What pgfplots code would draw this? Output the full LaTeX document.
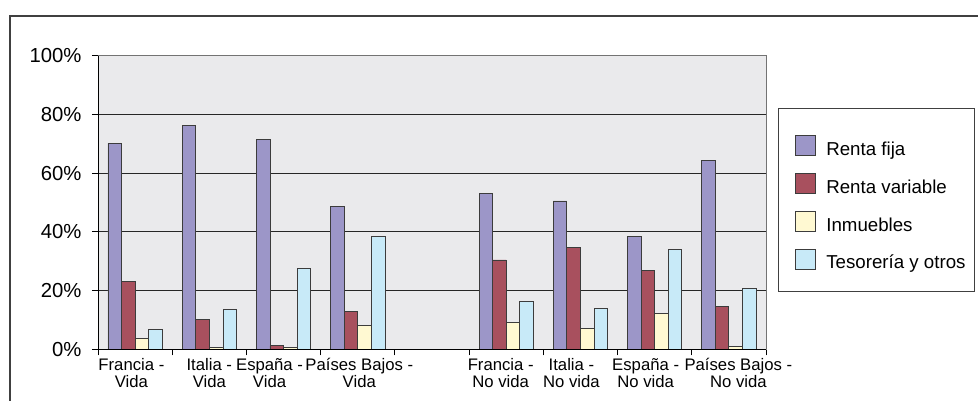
\documentclass[border=0pt]{standalone}
\usepackage{fontspec}
\setmainfont{Liberation Sans}
\usepackage{pgfplots}
\pgfplotsset{compat=1.18}

\definecolor{rfija}{HTML}{9C96C8}
\definecolor{rvar}{HTML}{A8505E}
\definecolor{inmu}{HTML}{FFF9D2}
\definecolor{teso}{HTML}{C8EAF8}
\definecolor{barline}{HTML}{3C3C3C}
\definecolor{plotbg}{HTML}{EAEAEC}
\definecolor{frame}{HTML}{404040}

% two-line category label: #1 padding left, #2 padding right
\newcommand{\lab}[4]{\rule{0pt}{13pt}\hspace*{#1}#3\hspace*{#2}\\\hspace*{#1}#4\hspace*{#2}}

\begin{document}
\begin{tikzpicture}
\useasboundingbox (0pt,0pt) rectangle (978pt,400pt);
\draw[line width=1.3pt, frame] (10pt,-10pt) |- (990pt,384pt);
\begin{axis}[
  at={(98pt,50.7pt)}, anchor=south west,
  scale only axis, width=668pt, height=293.8pt,
  xmin=-0.5, xmax=8.5, ymin=0, ymax=100,
  ybar=0pt, bar width=13.6pt,
  axis background/.style={fill=plotbg},
  axis line style={draw=black!45, line width=0.8pt},
  major tick length=0pt, minor tick length=6pt,
  tick align=outside, tick pos=left,
  minor tick style={black, line width=0.8pt},
  xtick={0,1,2,3,5,6,7,8},
  xticklabels={
    {\lab{0pt}{7.4pt}{Francia -}{Vida}},
    {\lab{0pt}{0pt}{Italia -}{Vida}},
    {\lab{0pt}{28pt}{España -}{Vida}},
    {\lab{3pt}{0pt}{Países Bajos -}{Vida}},
    {\lab{0pt}{11pt}{Francia -}{No vida}},
    {\lab{0pt}{18pt}{Italia -}{No vida}},
    {\lab{0pt}{18pt}{España -}{No vida}},
    {\lab{19pt}{0pt}{Países Bajos -}{No vida}}},
  minor xtick={-0.5,0.5,...,8.5},
  ytick={0,20,...,100},
  minor ytick={0,20,...,100},
  yticklabels={0\%,20\%,40\%,60\%,80\%,100\%},
  ymajorgrids, major grid style={black!85, line width=0.8pt},
  xticklabel style={font=\fontsize{16.7}{16.7}\selectfont, align=center,
    anchor=north, inner sep=0pt, yshift=-8.4pt},
  yticklabel style={font=\fontsize{20.3}{24}\selectfont, anchor=east,
    inner sep=0pt, xshift=-16.3pt},
  legend cell align=left,
  legend style={at={(1.018,0.8203)}, anchor=north west,
    draw=frame, line width=0.9pt, fill=white,
    inner xsep=9pt, inner ysep=21.7pt, row sep=12.4pt,
    font=\fontsize{18.7}{22}\selectfont,
    nodes={inner sep=0pt, text height=25pt, text depth=0pt},
    /tikz/every odd column/.append style={column sep=10pt}},
  legend image code/.code={\path (0pt,0pt);
    \draw[#1, line width=0.9pt] (8pt,-12.5pt) rectangle (28pt,7.5pt);},
  clip=false,
  every axis plot/.append style={draw=barline, line width=0.8pt},
]
\addplot[fill=rfija] coordinates {(0,70.1) (1,76.2) (2,71.3) (3,48.7) (5,52.9) (6,50.5) (7,38.3) (8,64.4)};
\addplot[fill=rvar] coordinates {(0,23.0) (1,10.3) (2,1.2) (3,12.8) (5,30.4) (6,34.7) (7,26.8) (8,14.6)};
\addplot[fill=inmu] coordinates {(0,3.7) (1,0.7) (2,0.7) (3,8.0) (5,9.2) (6,7.2) (7,12.1) (8,1.1)};
\addplot[fill=teso] coordinates {(0,6.7) (1,13.5) (2,27.6) (3,38.4) (5,16.4) (6,13.9) (7,34.0) (8,20.6)};
\legend{Renta fija, Renta variable, Inmuebles, Tesorería y otros}
% frame of the plot area: grey top and right, black left and bottom
\draw[black!55, line width=0.8pt] (rel axis cs:0,1) -- (rel axis cs:1,1) -- (rel axis cs:1,0);
\draw[black, line width=0.8pt] (rel axis cs:0,1) -- (rel axis cs:0,0) -- (rel axis cs:1,0);
\end{axis}
\end{tikzpicture}
\end{document}
